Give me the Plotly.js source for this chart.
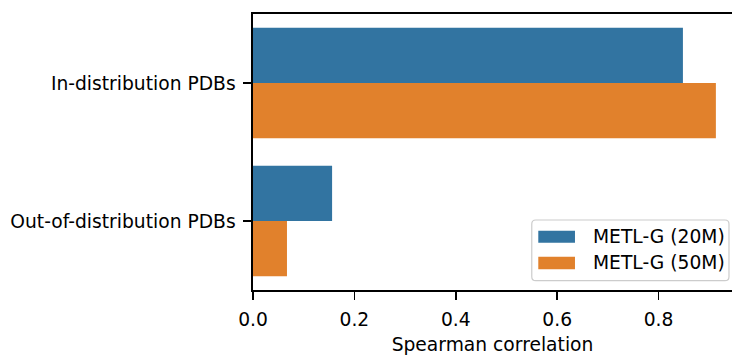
<!DOCTYPE html>
<html>
<head>
<meta charset="utf-8">
<script src="https://cdn.plot.ly/plotly-3.0.1.min.js"></script>
<style>html,body{margin:0;padding:0;background:#fff;}#chart{width:732px;height:355px;}</style>
</head>
<body>
<div id="chart"></div>
<script>
// Data
const categories = ["In-distribution PDBs", "Out-of-distribution PDBs"];
const seriesNames = ["METL-G (20M)", "METL-G (50M)"];
const values20M = [0.848, 0.156];
const values50M = [0.913, 0.067];
const xTicks = [0.0, 0.2, 0.4, 0.6, 0.8];
const xTickLabels = ["0.0", "0.2", "0.4", "0.6", "0.8"];
const xTitle = "Spearman correlation";

const colors = ["#3274a1", "#e1812c"];
const FONT = "DejaVu Sans";
const FS = 18.7;

const traces = [
  {type: "bar", orientation: "h", name: seriesNames[0], x: values20M, y: categories,
   marker: {color: colors[0], line: {width: 0}}, hoverinfo: "skip"},
  {type: "bar", orientation: "h", name: seriesNames[1], x: values50M, y: categories,
   marker: {color: colors[1], line: {width: 0}}, hoverinfo: "skip"}
];

// Manual legend (rounded box, wide swatches)
const bx0 = 0.582, bx1 = 0.9937, by0 = 0.0337, by1 = 0.2536;
const rx = 4/479, ry = 4/276;
const boxPath = `M${bx0+rx},${by0} L${bx1-rx},${by0} Q${bx1},${by0} ${bx1},${by0+ry} ` +
  `L${bx1},${by1-ry} Q${bx1},${by1} ${bx1-rx},${by1} L${bx0+rx},${by1} ` +
  `Q${bx0},${by1} ${bx0},${by1-ry} L${bx0},${by0+ry} Q${bx0},${by0} ${bx0+rx},${by0} Z`;
const swatchX0 = 0.5956, swatchX1 = 0.6722;
const swatchY = [[0.1714, 0.2149], [0.0750, 0.1207]];
const textX = 0.7050;

const shapes = [
  {type: "path", xref: "paper", yref: "paper", path: boxPath,
   line: {color: "#cccccc", width: 1.2}, fillcolor: "rgba(255,255,255,0.8)", layer: "above"}
];
const annotations = [];
seriesNames.forEach((n, i) => {
  shapes.push({type: "rect", xref: "paper", yref: "paper", x0: swatchX0, x1: swatchX1,
    y0: swatchY[i][0], y1: swatchY[i][1], line: {width: 0}, fillcolor: colors[i], layer: "above"});
  annotations.push({xref: "paper", yref: "paper", x: textX, y: (swatchY[i][0] + swatchY[i][1]) / 2,
    xanchor: "left", yanchor: "middle", text: n, showarrow: false,
    font: {family: FONT, size: FS, color: "#000"}});
});

const layout = {
  width: 732, height: 355,
  margin: {l: 253, r: 0, t: 14, b: 65, pad: 0},
  paper_bgcolor: "#fff", plot_bgcolor: "#fff",
  font: {family: FONT, size: FS, color: "#000"},
  showlegend: false,
  barmode: "group", bargap: 0.2, bargroupgap: 0,
  xaxis: {
    range: [0, 0.9448], tickvals: xTicks, ticktext: xTickLabels,
    showgrid: false, zeroline: false,
    showline: true, linecolor: "#000", linewidth: 1.6, mirror: true,
    ticks: "outside", ticklen: 8, tickwidth: 1.6, tickcolor: "#000",
    ticklabelstandoff: 4,
    title: {text: xTitle, font: {family: FONT, size: FS, color: "#000"}, standoff: 9}
  },
  yaxis: {
    type: "category", categoryorder: "array", categoryarray: categories,
    range: [1.5, -0.5],
    showgrid: false, zeroline: false,
    showline: true, linecolor: "#000", linewidth: 1.6, mirror: false,
    ticks: "outside", ticklen: 8, tickwidth: 1.6, tickcolor: "#000",
    ticklabelstandoff: 4
  },
  shapes: shapes,
  annotations: annotations
};

Plotly.newPlot("chart", traces, layout, {staticPlot: true, displayModeBar: false});
</script>
</body>
</html>
